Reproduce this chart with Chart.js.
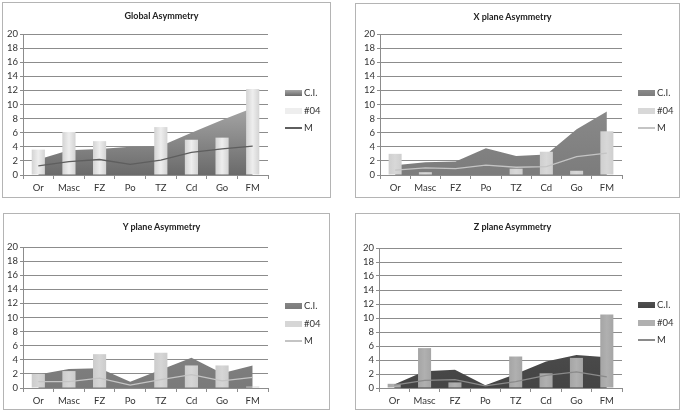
<!DOCTYPE html>
<html>
<head>
<meta charset="utf-8">
<script src="https://cdn.jsdelivr.net/npm/chart.js@4/dist/chart.umd.min.js"></script>
<style>
  body { margin: 0; background: #fff; width: 685px; height: 413px; position: relative; overflow: hidden; font-family: Lato, "Open Sans", sans-serif; }
  canvas { position: absolute; }
  .frame { position: absolute; box-sizing: border-box; border: 1px solid #b4b4b4; pointer-events: none; }
  .title { position: absolute; font-size: 9px; font-weight: bold; color: #222; text-align: center; }
  .leg { position: absolute; font-size: 9.5px; color: #333; height: 12px; line-height: 12px; }
  .leg span { position: absolute; left: 0; }
  .leg b { position: absolute; left: 19px; font-weight: normal; }
</style>
</head>
<body>
<script>
const categories = ["Or", "Masc", "FZ", "Po", "TZ", "Cd", "Go", "FM"];
const yMax = 20;
const yStep = 2;
const seriesNames = ["C.I.", "#04", "M"];

const globalCI = [2.2, 3.5, 3.7, 4.0, 4.1, 6.0, 7.8, 9.5];
const globalSample = [3.6, 6.1, 4.8, 0, 6.8, 5.0, 5.3, 12.2];
const globalMean = [1.3, 1.9, 2.2, 1.5, 2.1, 3.2, 3.7, 4.1];

const xPlaneCI = [1.4, 1.8, 1.9, 3.8, 2.7, 2.9, 6.5, 9.0];
const xPlaneSample = [3.0, 0.4, 0, 0, 0.9, 3.3, 0.6, 6.2];
const xPlaneMean = [0.7, 1.0, 0.9, 1.4, 1.1, 1.2, 2.6, 3.1];

const yPlaneCI = [1.9, 2.7, 2.8, 0.9, 2.6, 4.3, 2.1, 3.2];
const yPlaneSample = [2.0, 2.4, 4.8, 0, 5.0, 3.2, 3.2, 0.2];
const yPlaneMean = [0.9, 0.9, 1.4, 0.4, 1.2, 1.9, 1.0, 1.5];

const zPlaneCI = [0.5, 2.4, 2.6, 0.4, 2.0, 3.8, 4.7, 4.4];
const zPlaneSample = [0.6, 5.7, 0.8, 0, 4.5, 2.1, 4.3, 10.5];
const zPlaneMean = [0.4, 1.1, 1.2, 0.3, 0.9, 1.8, 2.3, 1.6];

// panel layout: box = frame, plot = chart area (page coords)
const panels = [
    {
        title: "Global Asymmetry",
        box: { l: 2, t: 2, r: 331, b: 198 },
        plot: { l: 23, t: 34, r: 268, b: 175 },
        legend: { x: 285, y: 93 },
        ci: globalCI, sample: globalSample, mean: globalMean,
        areaTop: "#a8a8a8", areaBottom: "#6a6a6a",
        barEdge: "#d2d2d2", barMid: "#eeeeee",
        line: "#5e5e5e",
    },
    {
        title: "X plane Asymmetry",
        box: { l: 355, t: 3, r: 680, b: 198 },
        plot: { l: 380, t: 34, r: 622, b: 175 },
        legend: { x: 638, y: 93 },
        ci: xPlaneCI, sample: xPlaneSample, mean: xPlaneMean,
        areaTop: "#8a8a8a", areaBottom: "#7c7c7c",
        barEdge: "#cecece", barMid: "#d8d8d8",
        line: "#c4c4c4",
    },
    {
        title: "Y plane Asymmetry",
        box: { l: 3, t: 213, r: 330, b: 410 },
        plot: { l: 23, t: 247, r: 268, b: 388 },
        legend: { x: 285, y: 306 },
        ci: yPlaneCI, sample: yPlaneSample, mean: yPlaneMean,
        areaTop: "#858585", areaBottom: "#7a7a7a",
        barEdge: "#cbcbcb", barMid: "#d6d6d6",
        line: "#c4c4c4",
    },
    {
        title: "Z plane Asymmetry",
        box: { l: 355, t: 213, r: 680, b: 410 },
        plot: { l: 379, t: 248, r: 622, b: 388 },
        legend: { x: 638, y: 305 },
        ci: zPlaneCI, sample: zPlaneSample, mean: zPlaneMean,
        areaTop: "#505050", areaBottom: "#444444",
        barEdge: "#a4a4a4", barMid: "#b0b0b0",
        line: "#8a8a8a",
    },
];

function areaFill(p) {
    return (ctx) => {
        const chart = ctx.chart;
        const area = chart.chartArea;
        if (!area || !isFinite(area.top) || !isFinite(area.bottom) || area.bottom <= area.top) return p.areaBottom;
        const g = chart.ctx.createLinearGradient(0, area.bottom, 0, area.bottom - (area.bottom - area.top) / 2);
        g.addColorStop(0, p.areaBottom);
        g.addColorStop(1, p.areaTop);
        return g;
    };
}

function barFill(p) {
    return (ctx) => {
        const chart = ctx.chart;
        if (ctx.type !== "data" || !chart.scales.x) return p.barMid;
        const x = chart.scales.x.getPixelForValue(ctx.dataIndex);
        if (!isFinite(x)) return p.barMid;
        const w = 7;
        const g = chart.ctx.createLinearGradient(x - w, 0, x + w, 0);
        g.addColorStop(0, p.barEdge);
        g.addColorStop(0.5, p.barMid);
        g.addColorStop(1, p.barEdge);
        return g;
    };
}

function makePanel(p, idx) {
    const w = p.box.r - p.box.l;
    const h = p.box.b - p.box.t;

    const canvas = document.createElement("canvas");
    canvas.id = "chart" + idx;
    canvas.width = w;
    canvas.height = h;
    canvas.style.left = p.box.l + "px";
    canvas.style.top = p.box.t + "px";
    canvas.style.width = w + "px";
    canvas.style.height = h + "px";
    document.body.appendChild(canvas);

    const frame = document.createElement("div");
    frame.className = "frame";
    frame.style.cssText = `left:${p.box.l}px;top:${p.box.t}px;width:${w}px;height:${h}px`;
    document.body.appendChild(frame);

    const title = document.createElement("div");
    title.className = "title";
    title.textContent = p.title;
    title.style.cssText = `left:${p.box.l}px;width:${w - 10}px;top:${p.box.t + 8}px`;
    document.body.appendChild(title);

    // legend
    const legendStyles = [
        `top:3px;width:17px;height:6px;background:linear-gradient(${p.areaTop},${p.areaBottom})`,
        `top:3px;width:17px;height:6px;background:${p.barMid}`,
        `top:5px;width:17px;height:1.5px;background:${p.line}`,
    ];
    seriesNames.forEach((name, i) => {
        const item = document.createElement("div");
        item.className = "leg";
        item.style.left = p.legend.x + "px";
        item.style.top = (p.legend.y - 6 + i * 17.5) + "px";
        item.innerHTML = `<span style="${legendStyles[i]}"></span><b></b>`;
        item.querySelector("b").textContent = name;
        document.body.appendChild(item);
    });

    const padLeft = p.plot.l - p.box.l;
    const padBottom = p.box.b - p.plot.b;

    new Chart(canvas.getContext("2d"), {
        data: {
            labels: categories,
            datasets: [
                {
                    type: "line",
                    label: seriesNames[2],
                    data: p.mean,
                    borderColor: p.line,
                    borderWidth: 1.3,
                    pointRadius: 0,
                    fill: false,
                    order: 0,
                },
                {
                    type: "bar",
                    label: seriesNames[1],
                    data: p.sample,
                    backgroundColor: barFill(p),
                    barPercentage: 0.43,
                    categoryPercentage: 1,
                    order: 1,
                },
                {
                    type: "line",
                    label: seriesNames[0],
                    data: p.ci,
                    backgroundColor: areaFill(p),
                    borderWidth: 0,
                    pointRadius: 0,
                    fill: "origin",
                    order: 2,
                },
            ],
        },
        options: {
            responsive: false,
            animation: false,
            devicePixelRatio: 1,
            layout: {
                padding: { top: p.plot.t - p.box.t, right: p.box.r - p.plot.r, left: 0, bottom: 0 },
            },
            plugins: {
                legend: { display: false },
                title: { display: false },
                tooltip: { enabled: false },
            },
            scales: {
                x: {
                    offset: true,
                    grid: { display: true, drawOnChartArea: false, drawTicks: true, tickLength: 4, color: "#8c8c8c", offset: true },
                    border: { color: "#8c8c8c" },
                    ticks: { color: "#333", font: { family: "Lato", size: 9.5 }, padding: 3, maxRotation: 0 },
                    afterFit: (axis) => { axis.height = padBottom; },
                },
                y: {
                    min: 0,
                    max: yMax,
                    grid: { color: "#8c8c8c", tickLength: 3 },
                    border: { color: "#8c8c8c" },
                    ticks: { stepSize: yStep, autoSkip: false, color: "#333", font: { family: "Lato", size: 9.5 }, padding: 2 },
                    afterFit: (axis) => { axis.width = padLeft; },
                },
            },
        },
    });
}

panels.forEach(makePanel);
</script>
</body>
</html>
